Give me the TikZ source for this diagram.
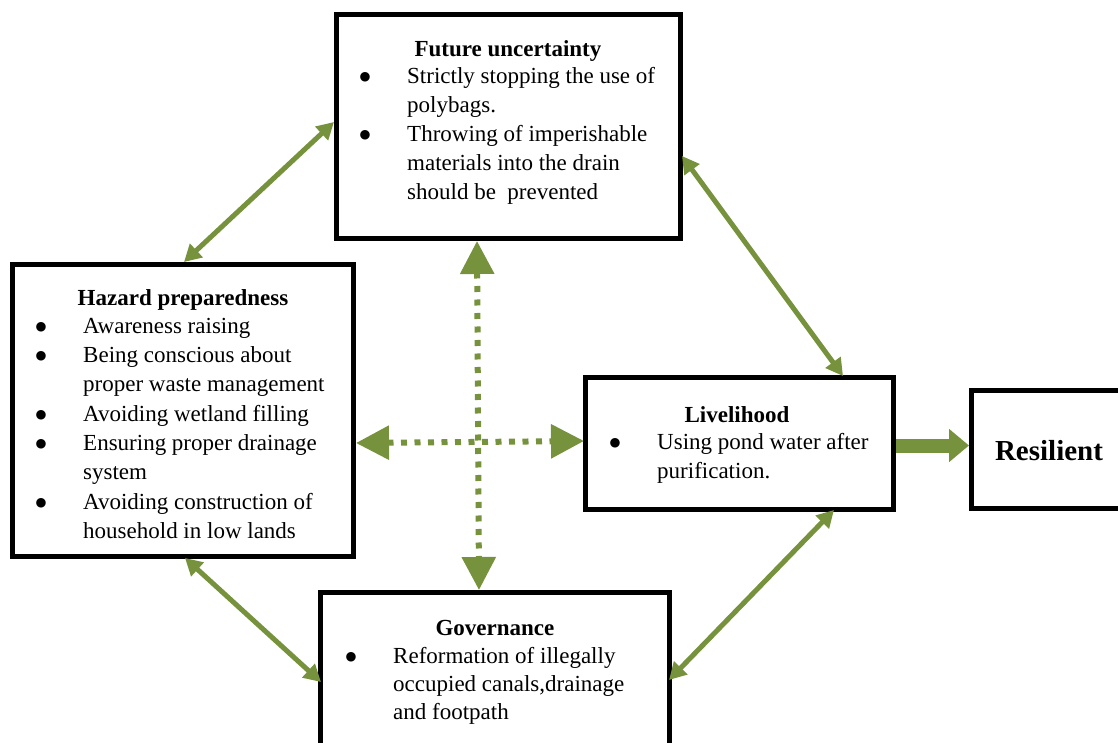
\documentclass[tikz,border=0pt]{standalone}
\usepackage{fontspec}
\setmainfont{Liberation Serif}
\newfontfamily\symfont{DejaVu Sans}
\usetikzlibrary{arrows.meta,calc}
\definecolor{olive}{RGB}{118,146,60}
% bullet with hanging indent, and the indent of a continued line
\newcommand\itm{\makebox[48pt][l]{\hspace*{0.5pt}\raisebox{3pt}{\symfont\fontsize{12.5}{13}\selectfont ●}}}
\newcommand\cont{\hspace*{48pt}}
\tikzset{
  frame/.style={draw=black, line width=5pt, inner sep=0pt},
  head/.style={anchor=base, font=\fontsize{23}{29}\selectfont\bfseries, inner sep=0pt},
  body/.style={anchor=north west, align=left, inner sep=0pt, font=\fontsize{23}{29}\selectfont},
  link/.style={draw=olive, line width=5pt,
    {Triangle[length=17pt,width=18pt]}-{Triangle[length=17pt,width=18pt]}},
  dots/.style={draw=olive, line width=6pt, dash pattern=on 6pt off 7.5pt,
    {Triangle[length=33pt,width=33pt]}-{Triangle[length=33pt,width=33pt]}},
  push/.style={draw=olive, line width=14pt, -{Triangle[length=20pt,width=32pt]}}
}
\begin{document}
\begin{tikzpicture}[x=1pt,y=-1pt]
\useasboundingbox (0,0) rectangle (1118,743);
\clip (0,0) rectangle (1118,743);

% boxes
\node[frame, minimum width=344pt, minimum height=224pt] (fut) at (508.5,126.5) {};
\node[frame, minimum width=341pt, minimum height=292pt] (haz) at (183,410.5) {};
\node[frame, minimum width=308pt, minimum height=132pt] (liv) at (739.5,443.5) {};
\node[frame, minimum width=161pt, minimum height=118pt] (res) at (1052,449.5) {};
\node[frame, minimum width=349pt, minimum height=165pt] (gov) at (495,675) {};

% Future uncertainty
\node[head] (futT) at (508,57) {Future uncertainty};
\node[body] (futB) at (359,62.7) {\strut\itm Strictly stopping the use of\\
  \cont polybags.\\
  \itm Throwing of imperishable\\
  \cont materials into the drain\\
  \cont should be\ \ prevented};

% Hazard preparedness
\node[head] (hazT) at (183,305) {Hazard preparedness};
\node[body, font=\fontsize{23}{29.3}\selectfont] (hazB) at (35,312.5) {\strut\itm Awareness raising\\
  \itm Being conscious about\\
  \cont proper waste management\\
  \itm Avoiding wetland filling\\
  \itm Ensuring proper drainage\\
  \cont system\\
  \itm Avoiding construction of\\
  \cont household in low lands};

% Livelihood
\node[head] (livT) at (737,422) {Livelihood};
\node[body] (livB) at (609,428.7) {\strut\itm Using pond water after\\
  \cont purification.};

% Governance
\node[head] (govT) at (495,635) {Governance};
\node[body, font=\fontsize{23}{28.3}\selectfont] (govB) at (345,643) {\strut\itm Reformation of illegally\\
  \cont occupied canals,drainage\\
  \cont and footpath};

% Resilient
\node[anchor=base, inner sep=0pt, font=\fontsize{29}{35}\selectfont\bfseries] (resT) at (1049,460) {Resilient};

% two-way links around the loop
\draw[link] ($(fut.north west)+(0,110)$) -- ($(haz.north west)+(174,0)$);
\draw[link] ($(fut.north east)+(-1,144)$) -- ($(liv.north west)+(260,1)$);
\draw[link] ($(haz.south west)+(175,-1)$) -- ($(gov.north west)+(3,92)$);
\draw[link] ($(liv.south west)+(251,-2)$) -- ($(gov.north east)+(-3,90)$);

% dotted cross links
\draw[dots] ($(fut.south west)+(143,0)$) -- ($(gov.north west)+(161,0)$);
\draw[dots] ($(haz.north east)+(0,181)$) -- ($(liv.north west)+(1,66)$);

% outcome
\draw[push] ($(liv.east)+(0,2)$) -- ($(res.west)+(0,-4)$);
\end{tikzpicture}
\end{document}
